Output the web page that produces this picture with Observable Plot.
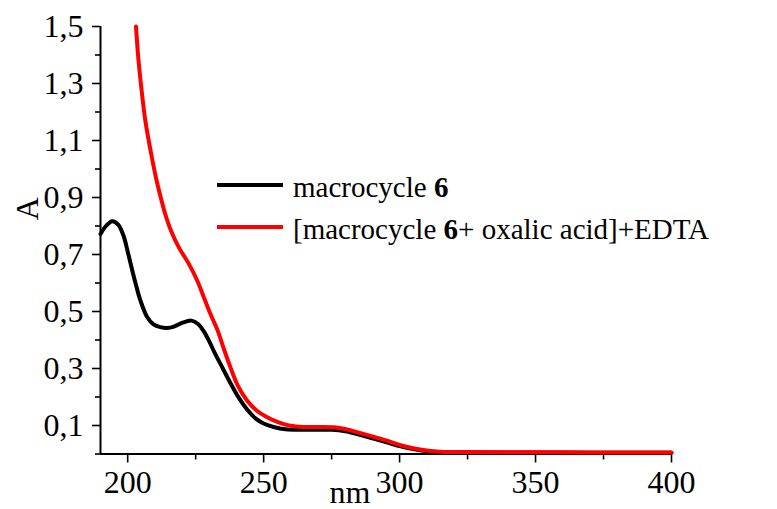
<!DOCTYPE html>
<html>
<head>
<meta charset="utf-8">
<script src="https://cdn.jsdelivr.net/npm/d3@7"></script>
<script src="https://cdn.jsdelivr.net/npm/@observablehq/plot@0.6"></script>
<style>
  html, body { margin: 0; padding: 0; background: #fff; }
  #wrap { position: relative; width: 777px; height: 509px; font-family: "Liberation Serif", "DejaVu Serif", serif; }
  #wrap svg, #wrap svg text { font-family: "Liberation Serif", "DejaVu Serif", serif !important; }
  #legend { position: absolute; left: 217px; top: 166px; font-size: 29px; color: #000; line-height: 42px; }
  .item { display: flex; align-items: center; white-space: nowrap; }
  .swatch { display: inline-block; width: 66px; height: 4px; margin-right: 10px; position: relative; top: -2px; }
</style>
</head>
<body>
<div id="wrap"></div>
<script>
// Wavelength (nm) and absorbance (A)
const blackNm = [190, 192, 194.3, 196.5, 198.5, 200, 201.4, 203, 204.7, 207.2, 209.5, 212, 214.5, 217, 220, 223.5, 226, 228, 230, 232, 235, 238, 241, 244, 247, 250, 254, 258, 265, 275, 280, 285, 290, 295, 300, 305, 310, 315, 320, 350, 400];
const blackA  = [0.772, 0.80, 0.817, 0.805, 0.765, 0.71, 0.655, 0.595, 0.538, 0.48, 0.455, 0.445, 0.442, 0.447, 0.46, 0.468, 0.455, 0.43, 0.395, 0.355, 0.30, 0.245, 0.195, 0.155, 0.125, 0.107, 0.094, 0.087, 0.085, 0.085, 0.08, 0.068, 0.055, 0.042, 0.028, 0.017, 0.01, 0.007, 0.006, 0.005, 0.004];
const redNm = [203.05, 203.85, 205.0, 206.5, 208.7, 210.5, 212.3, 213.8, 215.9, 218.8, 222.5, 225.6, 228.0, 230.4, 233.1, 235.5, 237.8, 240.5, 243.9, 247.5, 251.3, 255.5, 259.9, 265, 270, 276, 280, 285, 290, 295, 300, 305, 310, 315, 320, 340, 360, 380, 400];
const redA  = [1.50, 1.395, 1.286, 1.169, 1.05, 0.965, 0.895, 0.842, 0.784, 0.725, 0.667, 0.608, 0.55, 0.492, 0.433, 0.365, 0.304, 0.24, 0.188, 0.152, 0.129, 0.111, 0.099, 0.095, 0.095, 0.094, 0.088, 0.075, 0.062, 0.048, 0.032, 0.02, 0.012, 0.008, 0.007, 0.006, 0.006, 0.005, 0.005];

const seriesNames = ["macrocycle 6", "[macrocycle 6+ oxalic acid]+EDTA"];
const seriesColors = ["#000000", "#ff0000"];

const xMajor = [200, 250, 300, 350, 400];
const xMinor = [225, 275, 325, 375];
const yMajor = [0.1, 0.3, 0.5, 0.7, 0.9, 1.1, 1.3, 1.5];
const yMinor = [0.0, 0.2, 0.4, 0.6, 0.8, 1.0, 1.2, 1.4];
const xDomain = [190, 400];
const yDomain = [0, 1.5];
const xLabel = "nm";
const yLabel = "A";

const blackData = blackNm.map((x, i) => ({x, y: blackA[i]}));
const redData = redNm.map((x, i) => ({x, y: redA[i]}));

const fmt = d => d3.format(".1f")(d).replace(".", ",");

const chart = Plot.plot({
  width: 777,
  height: 509,
  marginLeft: 100,
  marginRight: 106,
  marginTop: 26,
  marginBottom: 55.5,
  style: { fontFamily: "'Liberation Serif', 'DejaVu Serif', serif", background: "#fff", color: "#000" },
  x: { domain: xDomain },
  y: { domain: yDomain },
  marks: [
    Plot.axisX({ ticks: xMajor, tickSize: 9, tickPadding: 7, tickFormat: d => String(d), fontSize: 32, label: null, strokeWidth: 1.6 }),
    Plot.axisX({ ticks: xMinor, tickSize: 6, tickFormat: () => "", label: null, strokeWidth: 1.6 }),
    Plot.axisY({ ticks: yMajor, tickSize: 8, tickPadding: 9, tickFormat: fmt, fontSize: 32, label: null, strokeWidth: 1.6 }),
    Plot.axisY({ ticks: yMinor, tickSize: 5, tickFormat: () => "", label: null, strokeWidth: 1.6 }),
    Plot.ruleX([xDomain[0]], { strokeWidth: 2 }),
    Plot.ruleY([yDomain[0]], { strokeWidth: 2 }),
    Plot.line(blackData, { x: "x", y: "y", stroke: seriesColors[0], strokeWidth: 4, curve: "catmull-rom" }),
    Plot.line(redData, { x: "x", y: "y", stroke: seriesColors[1], strokeWidth: 4, curve: "catmull-rom" }),
    Plot.text([yLabel], { frameAnchor: "left", dx: -73, dy: -20, rotate: -90, fontSize: 32, lineAnchor: "middle" }),
    Plot.text([xLabel], { frameAnchor: "bottom", dx: -36, dy: 39, fontSize: 32, lineAnchor: "middle" })
  ]
});

const wrap = document.getElementById("wrap");
wrap.appendChild(chart);

const legend = document.createElement("div");
legend.id = "legend";
seriesNames.forEach((name, i) => {
  const item = document.createElement("div");
  item.className = "item";
  const sw = document.createElement("span");
  sw.className = "swatch";
  sw.style.background = seriesColors[i];
  item.appendChild(sw);
  const label = document.createElement("span");
  label.innerHTML = name.replace("6", "<b>6</b>");
  item.appendChild(label);
  legend.appendChild(item);
});
wrap.appendChild(legend);
</script>
</body>
</html>
